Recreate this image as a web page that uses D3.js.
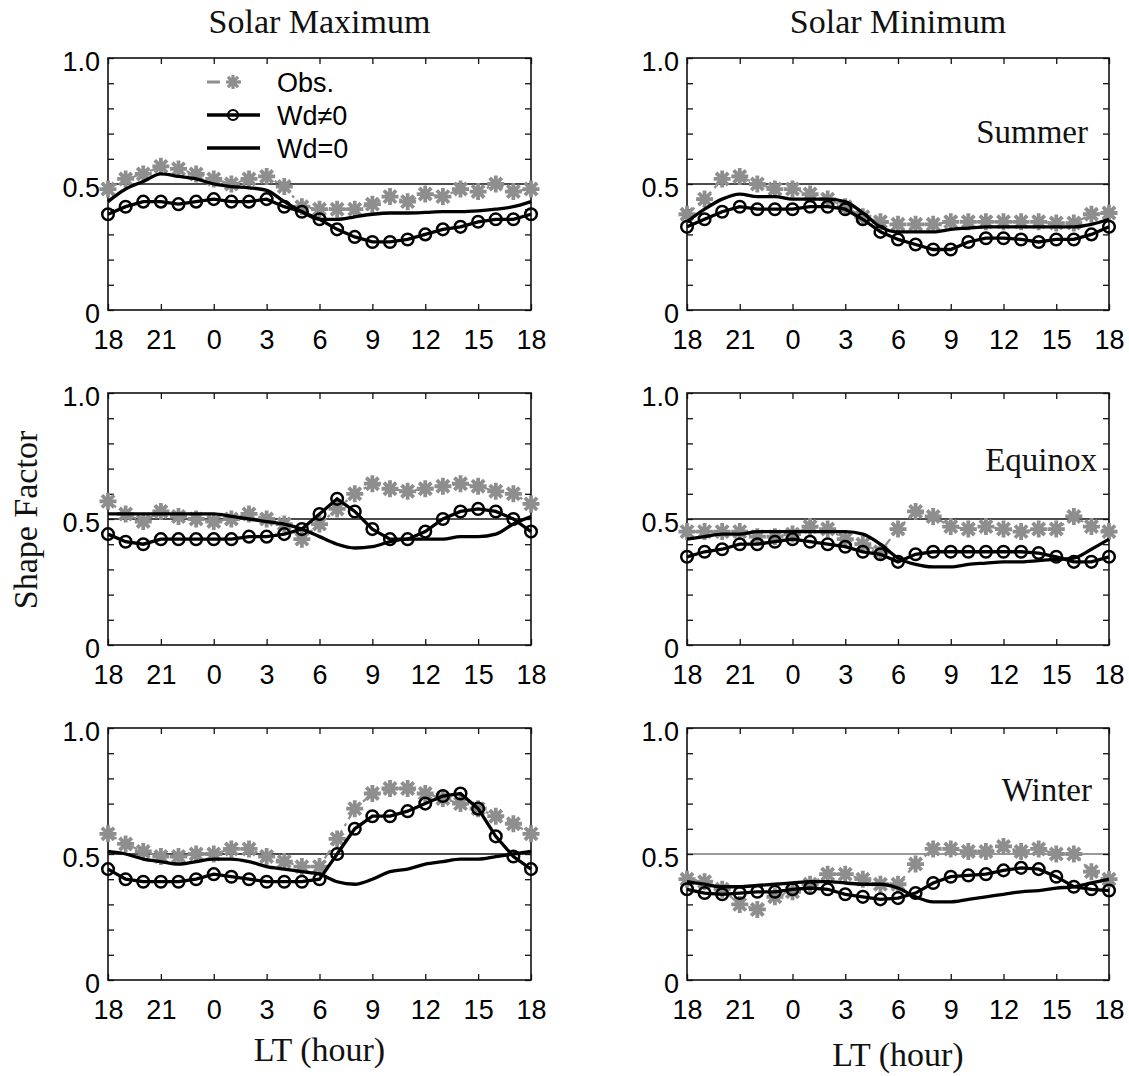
<!DOCTYPE html>
<html lang="en">
<head>
    <meta charset="UTF-8">
    <title>Shape Factor</title>
    <script src="https://d3js.org/d3.v7.min.js"></script>
    <style>
        body { margin: 0; background: #fff; }
        .tick text { font-family: "Liberation Sans", Arial, sans-serif; font-size: 27px; fill: #000; }
        .serif { font-family: "Liberation Serif", "Times New Roman", serif; fill: #111; }
    </style>
</head>
<body>
    <div id="chart"></div>
    <script>
        // Local time, hourly from 18 LT through midnight back to 18 LT
        const hours = [18, 19, 20, 21, 22, 23, 0, 1, 2, 3, 4, 5, 6, 7, 8, 9, 10, 11, 12, 13, 14, 15, 16, 17, 18];
        const xTickLabels = ["18", "21", "0", "3", "6", "9", "12", "15", "18"];
        const yTickValues = [0, 0.5, 1.0];
        const yTickLabels = ["0", "0.5", "1.0"];
        const columnTitles = ["Solar Maximum", "Solar Minimum"];
        const seasons = ["Summer", "Equinox", "Winter"];

        // Solar maximum
        const obsMaxSummer = [0.48, 0.52, 0.54, 0.57, 0.56, 0.54, 0.52, 0.50, 0.52, 0.53, 0.49, 0.41, 0.40, 0.40, 0.40, 0.42, 0.45, 0.43, 0.46, 0.45, 0.48, 0.47, 0.50, 0.47, 0.48];
        const wdMaxSummer  = [0.38, 0.41, 0.43, 0.43, 0.42, 0.43, 0.44, 0.43, 0.43, 0.44, 0.41, 0.39, 0.36, 0.32, 0.29, 0.27, 0.27, 0.28, 0.30, 0.32, 0.33, 0.35, 0.36, 0.36, 0.38];
        const wd0MaxSummer = [0.43, 0.48, 0.51, 0.54, 0.53, 0.52, 0.50, 0.49, 0.485, 0.475, 0.43, 0.39, 0.36, 0.36, 0.37, 0.38, 0.385, 0.385, 0.387, 0.39, 0.39, 0.393, 0.40, 0.41, 0.43];

        const obsMaxEquinox = [0.57, 0.52, 0.49, 0.53, 0.51, 0.50, 0.49, 0.50, 0.52, 0.50, 0.48, 0.42, 0.48, 0.54, 0.60, 0.64, 0.62, 0.61, 0.62, 0.63, 0.64, 0.63, 0.61, 0.60, 0.56];
        const wdMaxEquinox  = [0.44, 0.41, 0.40, 0.42, 0.42, 0.42, 0.42, 0.42, 0.43, 0.43, 0.44, 0.46, 0.52, 0.58, 0.53, 0.46, 0.42, 0.42, 0.45, 0.50, 0.53, 0.54, 0.53, 0.50, 0.45];
        const wd0MaxEquinox = [0.52, 0.52, 0.52, 0.52, 0.52, 0.52, 0.52, 0.51, 0.50, 0.49, 0.48, 0.46, 0.43, 0.40, 0.385, 0.39, 0.41, 0.42, 0.42, 0.42, 0.43, 0.43, 0.44, 0.48, 0.51];

        const obsMaxWinter = [0.58, 0.54, 0.51, 0.49, 0.49, 0.50, 0.50, 0.52, 0.52, 0.49, 0.47, 0.45, 0.45, 0.56, 0.68, 0.74, 0.76, 0.76, 0.74, 0.72, 0.70, 0.68, 0.65, 0.62, 0.58];
        const wdMaxWinter  = [0.44, 0.40, 0.39, 0.39, 0.39, 0.40, 0.42, 0.41, 0.40, 0.39, 0.39, 0.39, 0.40, 0.50, 0.60, 0.65, 0.65, 0.67, 0.70, 0.73, 0.74, 0.68, 0.57, 0.49, 0.44];
        const wd0MaxWinter = [0.51, 0.50, 0.48, 0.47, 0.46, 0.47, 0.48, 0.48, 0.47, 0.45, 0.44, 0.43, 0.42, 0.39, 0.38, 0.40, 0.43, 0.44, 0.46, 0.47, 0.48, 0.48, 0.49, 0.50, 0.51];

        // Solar minimum
        const obsMinSummer = [0.38, 0.44, 0.52, 0.53, 0.50, 0.48, 0.48, 0.46, 0.44, 0.41, 0.37, 0.35, 0.34, 0.34, 0.34, 0.35, 0.35, 0.35, 0.35, 0.35, 0.35, 0.345, 0.345, 0.38, 0.385];
        const wdMinSummer  = [0.33, 0.36, 0.39, 0.41, 0.40, 0.40, 0.40, 0.41, 0.41, 0.40, 0.36, 0.31, 0.28, 0.26, 0.24, 0.24, 0.27, 0.285, 0.285, 0.28, 0.27, 0.28, 0.28, 0.30, 0.33];
        const wd0MinSummer = [0.35, 0.40, 0.44, 0.46, 0.45, 0.45, 0.44, 0.44, 0.44, 0.43, 0.385, 0.33, 0.31, 0.31, 0.31, 0.32, 0.325, 0.33, 0.33, 0.33, 0.33, 0.33, 0.33, 0.34, 0.36];

        const obsMinEquinox = [0.45, 0.45, 0.45, 0.45, 0.43, 0.43, 0.44, 0.47, 0.46, 0.42, 0.40, 0.37, 0.46, 0.53, 0.51, 0.47, 0.46, 0.47, 0.46, 0.45, 0.46, 0.46, 0.51, 0.47, 0.45];
        const wdMinEquinox  = [0.35, 0.37, 0.38, 0.40, 0.40, 0.41, 0.42, 0.41, 0.40, 0.39, 0.37, 0.36, 0.33, 0.36, 0.37, 0.37, 0.37, 0.37, 0.37, 0.37, 0.365, 0.35, 0.33, 0.33, 0.35];
        const wd0MinEquinox = [0.42, 0.43, 0.44, 0.44, 0.45, 0.45, 0.45, 0.45, 0.45, 0.45, 0.44, 0.40, 0.345, 0.32, 0.31, 0.31, 0.32, 0.325, 0.33, 0.33, 0.335, 0.34, 0.345, 0.38, 0.42];

        const obsMinWinter = [0.40, 0.39, 0.36, 0.30, 0.28, 0.33, 0.35, 0.38, 0.42, 0.42, 0.40, 0.38, 0.38, 0.46, 0.52, 0.52, 0.51, 0.51, 0.53, 0.51, 0.52, 0.50, 0.50, 0.43, 0.40];
        const wdMinWinter  = [0.36, 0.345, 0.34, 0.345, 0.35, 0.35, 0.36, 0.365, 0.36, 0.34, 0.33, 0.32, 0.325, 0.345, 0.385, 0.41, 0.415, 0.42, 0.435, 0.445, 0.44, 0.41, 0.37, 0.36, 0.355];
        const wd0MinWinter = [0.39, 0.38, 0.37, 0.37, 0.375, 0.38, 0.385, 0.39, 0.39, 0.385, 0.38, 0.38, 0.365, 0.33, 0.31, 0.31, 0.32, 0.33, 0.34, 0.35, 0.355, 0.365, 0.37, 0.385, 0.40];

        const panels = [
            { col: 0, row: 0, obs: obsMaxSummer,  wd: wdMaxSummer,  wd0: wd0MaxSummer },
            { col: 0, row: 1, obs: obsMaxEquinox, wd: wdMaxEquinox, wd0: wd0MaxEquinox },
            { col: 0, row: 2, obs: obsMaxWinter,  wd: wdMaxWinter,  wd0: wd0MaxWinter },
            { col: 1, row: 0, obs: obsMinSummer,  wd: wdMinSummer,  wd0: wd0MinSummer },
            { col: 1, row: 1, obs: obsMinEquinox, wd: wdMinEquinox, wd0: wd0MinEquinox },
            { col: 1, row: 2, obs: obsMinWinter,  wd: wdMinWinter,  wd0: wd0MinWinter }
        ];

        // Layout
        const width = 1129, height = 1076;
        const cols = [{ x0: 108, x1: 531 }, { x0: 687, x1: 1109 }];
        const rows = [{ y0: 58, y1: 310 }, { y0: 393, y1: 645 }, { y0: 728, y1: 980 }];
        const seasonPos = [{ x: 1088, y: 143 }, { x: 1097, y: 471 }, { x: 1092, y: 801 }];
        const gray = "#8e8e8e";

        const svg = d3.select("#chart").append("svg")
            .attr("width", width)
            .attr("height", height);

        // asterisk marker like matlab '*'
        function asterisk(r) {
            const d = r * 0.72;
            return `M${-r},0H${r}M0,${-r}V${r}M${-d},${-d}L${d},${d}M${-d},${d}L${d},${-d}`;
        }

        panels.forEach(p => {
            const c = cols[p.col], r = rows[p.row];
            const x = d3.scaleLinear().domain([0, hours.length - 1]).range([c.x0, c.x1]);
            const y = d3.scaleLinear().domain([0, 1]).range([r.y1, r.y0]);
            const g = svg.append("g");

            // 0.5 reference line
            g.append("line")
                .attr("x1", c.x0).attr("x2", c.x1)
                .attr("y1", y(0.5)).attr("y2", y(0.5))
                .attr("stroke", p.col === 1 && p.row === 2 ? "#777" : "#111")
                .attr("stroke-width", 1.3);

            // axes
            const xt = d3.range(0, 25, 3);
            const yt = d3.range(11).map(i => i / 10);
            g.append("g").attr("transform", `translate(0,${r.y1})`)
                .call(d3.axisBottom(x).tickValues(xt).tickSizeInner(-6).tickSizeOuter(0).tickPadding(20)
                    .tickFormat((d, i) => xTickLabels[i]));
            g.append("g").attr("transform", `translate(0,${r.y0})`)
                .call(d3.axisTop(x).tickValues(xt).tickSizeInner(-6).tickSizeOuter(0).tickFormat(""));
            const yl = g.append("g").attr("transform", `translate(${c.x0},0)`)
                .call(d3.axisLeft(y).tickValues(yt).tickSizeInner(-6).tickSizeOuter(0).tickPadding(8)
                    .tickFormat(d => {
                        const k = yTickValues.findIndex(v => Math.abs(v - d) < 1e-6);
                        return k >= 0 ? yTickLabels[k] : "";
                    }));
            yl.selectAll("text").attr("dy", "0.48em");
            g.append("g").attr("transform", `translate(${c.x1},0)`)
                .call(d3.axisRight(y).tickValues(yt).tickSizeInner(-6).tickSizeOuter(0).tickFormat(""));
            g.selectAll(".domain").remove();
            g.selectAll(".tick line").attr("stroke", "#111").attr("stroke-width", 1.3);

            g.append("rect")
                .attr("x", c.x0).attr("y", r.y0)
                .attr("width", c.x1 - c.x0).attr("height", r.y1 - r.y0)
                .attr("fill", "none").attr("stroke", "#111").attr("stroke-width", 1.6);

            // Observations: gray dash-dot line with asterisks
            const lin = d3.line().x((d, i) => x(i)).y(d => y(d));
            g.append("path")
                .attr("d", lin(p.obs))
                .attr("fill", "none").attr("stroke", gray).attr("stroke-width", 2.2)
                .attr("stroke-dasharray", "10,5,3,5");
            g.selectAll(".obs").data(p.obs).enter().append("path")
                .attr("class", "obs")
                .attr("transform", (d, i) => `translate(${x(i)},${y(d)})`)
                .attr("d", asterisk(8.5))
                .attr("stroke", gray).attr("stroke-width", 3.8).attr("fill", "none");

            // Wd=0: smooth black line
            g.append("path")
                .attr("d", d3.line().x((d, i) => x(i)).y(d => y(d)).curve(d3.curveMonotoneX)(p.wd0))
                .attr("fill", "none").attr("stroke", "#000").attr("stroke-width", 3.3);

            // Wd!=0: black line with circles
            g.append("path")
                .attr("d", lin(p.wd))
                .attr("fill", "none").attr("stroke", "#000").attr("stroke-width", 3.3);
            g.selectAll(".wd").data(p.wd).enter().append("circle")
                .attr("class", "wd")
                .attr("cx", (d, i) => x(i)).attr("cy", d => y(d))
                .attr("r", 5.8)
                .attr("fill", "none").attr("stroke", "#000").attr("stroke-width", 2.5);

            if (p.col === 1) {
                svg.append("text").attr("class", "serif")
                    .attr("x", seasonPos[p.row].x).attr("y", seasonPos[p.row].y)
                    .attr("text-anchor", "end")
                    .style("font-size", "33px")
                    .text(seasons[p.row]);
            }
        });

        // Column titles and axis labels
        cols.forEach((c, i) => {
            svg.append("text").attr("class", "serif")
                .attr("x", (c.x0 + c.x1) / 2).attr("y", 33)
                .attr("text-anchor", "middle")
                .style("font-size", "34px")
                .text(columnTitles[i]);
            svg.append("text").attr("class", "serif")
                .attr("x", (c.x0 + c.x1) / 2).attr("y", i === 0 ? 1061 : 1066)
                .attr("text-anchor", "middle")
                .style("font-size", "34px")
                .text("LT (hour)");
        });

        svg.append("text").attr("class", "serif")
            .attr("transform", "translate(37,520) rotate(-90)")
            .attr("text-anchor", "middle")
            .style("font-size", "34px")
            .text("Shape Factor");

        // Legend in the first panel
        const legendItems = [
            { name: "Obs.", kind: "obs" },
            { name: "Wd\u22600", kind: "wd" },
            { name: "Wd=0", kind: "wd0" }
        ];
        const lg = svg.append("g").attr("transform", "translate(207,82)");
        legendItems.forEach((it, i) => {
            const row = lg.append("g").attr("transform", `translate(0,${i * 33})`);
            const ln = row.append("line").attr("x1", 0).attr("x2", 53).attr("y1", 0).attr("y2", 0);
            if (it.kind === "obs") {
                ln.attr("stroke", gray).attr("stroke-width", 3).attr("stroke-dasharray", "13,9,3,6,3,20");
                row.append("path").attr("transform", "translate(26,0)").attr("d", asterisk(7))
                    .attr("stroke", gray).attr("stroke-width", 3.2).attr("fill", "none");
            } else {
                ln.attr("stroke", "#000").attr("stroke-width", 3.5);
                if (it.kind === "wd") {
                    row.append("circle").attr("cx", 26).attr("cy", 0).attr("r", 5)
                        .attr("fill", "none").attr("stroke", "#000").attr("stroke-width", 2.2);
                }
            }
            row.append("text")
                .attr("x", 70).attr("y", 0).attr("dy", "0.36em")
                .style("font-family", "'Liberation Sans', Arial, sans-serif")
                .style("font-size", "27px")
                .text(it.name);
        });
    </script>
</body>
</html>
